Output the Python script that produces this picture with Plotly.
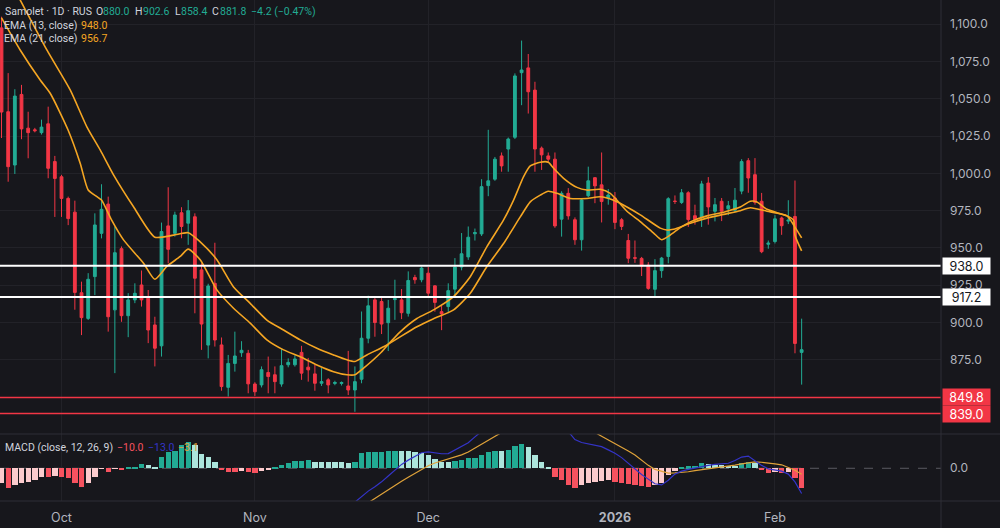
import plotly.graph_objects as go

# ---------------- data ----------------
idx = list(range(121))
opens = [1097.5, 1041.3, 1005.6, 1052.9, 1030.3, 1029.2, 1027.3, 1033.2, 1007.9, 997.7,
         983.2, 974.0, 920.0, 902.8, 930.8, 959.8, 979.4, 908.5, 949.5, 904.6,
         915.2, 925.2, 916.3, 898.4, 884.4, 964.8, 959.8, 973.6, 966.6, 970.9,
         935.3, 884.9, 926.3, 885.0, 856.6, 872.6, 879.8, 879.4, 858.8, 858.2,
         866.5, 865.0, 858.8, 871.7, 871.7, 880.0, 870.1, 865.6, 859.3, 861.6,
         859.2, 859.2, 857.5, 854.8, 862.0, 889.5, 915.2, 914.1, 899.9, 915.4,
         915.2, 906.2, 930.2, 928.7, 933.1, 924.6, 907.3, 910.7, 922.4, 937.2,
         944.0, 959.5, 959.4, 991.8, 996.1, 1011.7, 1016.3, 1024.2, 1067.5, 1070.7,
         1055.8, 1016.9, 1011.7, 1009.5, 969.3, 986.6, 968.9, 955.5, 985.0, 997.1,
         992.3, 983.5, 983.5, 968.9, 955.0, 943.5, 943.0, 938.5, 922.3, 934.8,
         944.3, 981.4, 980.5, 987.0, 971.6, 970.8, 993.5, 974.6, 981.3, 976.2,
         975.3, 988.1, 1008.5, 999.1, 981.3, 952.5, 954.3, 970.1, 968.0, 971.1,
         880.0]
highs = [1105.0, 1067.2, 1056.4, 1059.3, 1041.3, 1030.5, 1036.0, 1044.7, 1011.7, 999.0,
         984.4, 981.7, 927.4, 933.1, 973.2, 992.7, 984.4, 964.3, 951.0, 919.7,
         926.3, 934.9, 921.8, 903.9, 967.0, 990.7, 974.3, 977.3, 982.1, 973.2,
         939.7, 926.0, 953.5, 890.0, 878.3, 893.9, 887.5, 881.7, 860.0, 870.6,
         877.2, 870.6, 882.8, 876.0, 878.0, 884.4, 876.3, 871.7, 869.5, 862.7,
         861.0, 860.5, 881.0, 870.6, 907.4, 918.0, 916.4, 916.4, 915.2, 928.7,
         922.5, 934.3, 932.0, 937.5, 937.2, 925.0, 911.2, 926.3, 943.2, 960.0,
         964.4, 963.0, 996.1, 1029.2, 1011.0, 1014.0, 1024.0, 1067.0, 1089.0, 1080.0,
         1061.4, 1018.0, 1014.0, 1014.0, 988.0, 990.1, 970.5, 983.5, 1004.5, 997.5,
         1014.0, 989.5, 987.5, 970.0, 959.4, 955.0, 944.0, 940.5, 942.5, 944.0,
         984.0, 985.2, 989.5, 988.0, 979.0, 995.0, 997.5, 983.5, 983.5, 981.5,
         990.2, 1009.5, 1010.2, 1010.2, 986.9, 955.0, 972.0, 971.0, 982.0, 995.2,
         902.6]
lows = [1023.7, 994.4, 999.6, 1022.9, 1010.1, 1027.5, 1026.0, 996.7, 970.8, 970.8,
        965.3, 908.6, 891.6, 901.7, 918.4, 956.4, 893.9, 866.1, 900.5, 890.2,
        913.0, 910.7, 886.2, 870.6, 877.2, 939.7, 957.6, 956.5, 952.1, 906.2,
        881.7, 876.0, 883.9, 854.3, 850.4, 867.1, 877.0, 852.6, 850.8, 856.5,
        852.6, 852.6, 857.0, 870.0, 870.5, 861.6, 860.4, 854.3, 857.5, 852.6,
        858.0, 857.8, 851.4, 840.2, 859.3, 886.1, 890.5, 892.3, 880.9, 901.8,
        902.3, 904.0, 926.0, 927.0, 917.0, 907.3, 894.9, 907.0, 918.0, 935.0,
        942.0, 955.0, 958.0, 984.7, 995.0, 1001.1, 1001.1, 1023.0, 1045.7, 1040.1,
        1001.1, 1002.3, 1007.0, 963.5, 957.6, 969.0, 952.1, 948.2, 984.0, 980.0,
        967.1, 979.0, 962.6, 962.0, 939.8, 940.0, 931.2, 922.0, 917.7, 930.0,
        939.7, 979.5, 979.5, 964.1, 965.6, 964.1, 965.6, 967.8, 968.0, 972.0,
        974.0, 986.0, 987.0, 979.0, 946.5, 949.5, 953.0, 958.8, 966.0, 879.4,
        858.4]
closes = [1041.1, 1004.5, 1051.8, 1029.8, 1027.3, 1028.6, 1031.0, 1003.4, 996.6, 983.2,
          969.7, 920.2, 903.3, 929.0, 965.4, 975.9, 903.9, 946.8, 904.6, 915.2,
          919.6, 915.2, 895.0, 882.8, 961.0, 949.1, 972.1, 964.4, 975.0, 929.7,
          899.0, 924.5, 888.3, 857.1, 872.6, 877.6, 881.4, 858.9, 853.6, 868.4,
          863.8, 860.4, 871.1, 873.3, 875.6, 866.1, 868.3, 859.3, 860.4, 858.2,
          859.8, 859.8, 854.8, 860.4, 889.5, 911.2, 900.0, 899.0, 909.6, 916.0,
          906.6, 928.2, 928.7, 936.5, 919.7, 913.5, 905.8, 921.4, 937.2, 946.1,
          957.2, 960.3, 991.1, 995.0, 1009.5, 1005.0, 1023.0, 1065.3, 1069.3, 1054.7,
          1016.3, 1012.4, 1009.5, 964.8, 986.6, 971.5, 955.5, 982.2, 995.0, 991.6,
          981.1, 985.5, 967.1, 964.4, 943.1, 943.1, 937.9, 922.9, 934.8, 943.2,
          983.0, 981.2, 987.0, 969.0, 969.0, 992.9, 977.5, 979.0, 974.6, 978.3,
          982.0, 1007.9, 996.9, 980.6, 947.5, 953.2, 969.5, 964.9, 968.6, 886.0,
          881.8]

ema13_x = [0, 2.8, 5.8, 7.3, 10.0, 11.8, 13.0, 14.3, 15.0, 16.5, 18.3, 21.3, 23.0, 24.8,
           26.8, 28.0, 29.8, 32.3, 34.8, 37.3, 39.8, 42.3, 44.8, 47.3, 49.8, 51.8, 53.0,
           54.3, 56.8, 58.0, 59.8, 62.3, 64.8, 67.8, 70.3, 72.8, 75.3, 76.8, 78.3, 79.3,
           80.8, 82.0, 82.8, 84.3, 86.3, 87.8, 89.8, 91.3, 93.8, 95.8, 97.8, 99.0, 100.3,
           101.8, 103.3, 105.8, 108.3, 110.8, 112.3, 113.3, 114.8, 117.8, 118.8, 119, 120]
ema13 = [1104.2, 1082.7, 1062.6, 1053.7, 1028.9, 1006.8, 988.8, 984.4, 982.1, 968.8,
         955.4, 939.8, 929.0, 937.6, 944.3, 949.2, 942.1, 921.9, 909.6, 899.6, 888.4,
         881.7, 877.1, 871.6, 867.1, 865.0, 865.0, 869.4, 879.4, 885.4, 893.8, 902.7,
         908.5, 917.4, 930.7, 950.9, 968.8, 982.1, 997.8, 1005.0, 1007.5, 1007.5, 1003.4,
         996.7, 990.6, 988.8, 989.3, 986.6, 974.6, 967.7, 960.0, 955.5, 958.7, 963.6,
         967.5, 971.5, 974.0, 977.4, 981.3, 980.8, 975.9, 971.5, 968.5, 958.5, 948.0]
ema21_x = [0, 6.8, 10.3, 12.8, 14.8, 16.8, 19.8, 23.0, 25.8, 28.0, 29.8, 32.3, 34.8, 37.3,
           39.8, 42.3, 44.8, 47.3, 49.8, 51.8, 53.0, 54.8, 57.8, 62.3, 64.8, 67.8, 70.3,
           72.8, 75.3, 77.8, 79.3, 80.8, 82.0, 83.3, 85.3, 87.8, 89.8, 91.8, 93.8, 95.8,
           98.8, 99.8, 100.8, 103.3, 105.8, 108.3, 110.8, 112.3, 114.8, 117.8, 119.0, 120]
ema21 = [1140.0, 1082.7, 1055.9, 1031.2, 1015.7, 999.0, 977.6, 957.2, 958.6, 960.2,
         954.1, 942.1, 923.9, 912.9, 901.7, 895.0, 888.4, 882.8, 878.3, 875.0, 873.9,
         878.3, 885.0, 897.2, 902.6, 908.5, 919.6, 937.6, 953.0, 970.8, 980.9, 985.4,
         988.0, 986.6, 983.2, 983.2, 984.3, 982.0, 977.5, 972.2, 963.3, 962.0, 962.5,
         966.6, 970.0, 972.5, 975.0, 977.0, 974.6, 971.5, 964.0, 956.7]

hist = [-7.7, -10.3, -8.6, -7.7, -6.9, -6.0, -4.3, -4.4, -4.2, -4.6,
        -5.2, -7.7, -9.5, -7.7, -4.3, -0.3, -2.1, -0.3, -0.9, 0.2,
        0.9, 2.1, 1.5, 0.9, 6.0, 8.6, 9.1, 12.0, 13.4, 12.0,
        7.4, 6.0, 3.4, -0.5, -1.7, -1.8, -1.2, -1.7, -2.2, -1.2,
        -0.5, 0.5, 1.7, 2.9, 3.8, 3.9, 4.3, 3.4, 3.3, 3.2,
        3.1, 3.0, 2.9, 3.4, 8.1, 8.4, 8.5, 8.6, 8.7, 9.1,
        8.9, 8.8, 8.6, 8.1, 6.9, 4.6, 3.4, 3.1, 3.8, 4.3,
        5.2, 5.3, 6.9, 8.2, 9.1, 8.9, 9.2, 11.5, 12.4, 10.8,
        6.9, 3.4, 0.5, -4.3, -6.0, -8.6, -10.3, -8.6, -7.7, -6.9,
        -6.8, -6.0, -6.9, -7.7, -8.2, -8.6, -9.1, -9.5, -8.6, -7.7,
        -3.4, -1.2, 0.9, 1.0, 1.2, 2.6, 2.1, 1.7, 1.6, 1.4,
        1.3, 2.6, 3.1, 2.6, -0.9, -2.2, -2.1, -2.3, -1.7, -5.2,
        -10.0]
macd = [-26, -29, -30, -31, -32, -32.5, -33, -34, -35.5, -37,
        -38.5, -41, -44.5, -45, -42.5, -39, -40, -38.5, -38.5, -38,
        -37, -36, -36, -36, -31, -28, -25.5, -22, -19.5, -19.5,
        -21.5, -22, -22.5, -24, -25, -25.5, -25.5, -26, -26.5, -26,
        -25.5, -25, -24, -23, -22, -21.5, -21.5, -21.5, -21.5, -21.5,
        -21.5, -21.5, -21, -17.5, -14.5, -11.8, -9.5, -7.0, -4.0, -1.0,
        2.0, 4.2, 6.3, 8.0, 8.5, 8.1, 7.5, 7.6, 9.5, 11.2,
        13.2, 16.2, 19.5, 22.5, 25.5, 27.5, 31.5, 35.5, 38, 39,
        37, 35, 32.5, 28, 24, 19, 14.8, 13.3, 12.5, 11.8,
        11.2, 9.5, 7.8, 5.5, 2.5, -0.3, -3.2, -5.6, -8.0, -8.6,
        -6.2, -3.0, -1.5, -0.6, 0.2, 1.0, 1.5, 2.0, 2.3, 2.6,
        4.0, 5.8, 6.3, 4.0, 1.5, -0.3, -1.0, -1.5, -3.0, -7.0,
        -13.0]
signal = [-20, -21.5, -22.5, -23.5, -25, -26, -28.5, -29.5, -31, -32.5,
          -33.5, -33.5, -35, -37.5, -38, -38.5, -38, -38, -37.5, -38.2,
          -38, -38, -37.5, -37, -37, -36.5, -34.5, -34, -33, -31.5,
          -29, -28, -26, -23.5, -23.3, -23.7, -24.3, -24.3, -24.3, -24.8,
          -25, -25.5, -25.7, -25.9, -25.8, -25.4, -25.8, -24.9, -24.7, -24.6,
          -24.5, -24.4, -24.4, -21.5, -20.0, -17.8, -15.5, -13.2, -11.0, -8.8,
          -6.7, -4.6, -2.5, -0.4, 1.3, 2.7, 3.8, 4.8, 5.7, 6.9,
          8.4, 10.3, 12.3, 14.2, 16.3, 18.3, 20.5, 23.0, 25.5, 28.0,
          30.0, 31.5, 32.0, 32.0, 31.0, 29.0, 27.0, 24.0, 21.0, 18.5,
          16.5, 14.7, 12.8, 10.9, 8.9, 6.9, 4.3, 1.5, -0.6, -1.5,
          -2.5, -2.4, -2.2, -1.8, -1.2, -0.8, -0.2, 0.3, 0.7, 1.0,
          1.6, 2.3, 3.0, 3.3, 3.1, 2.8, 2.3, 1.8, 0.5, -1.0,
          -3.1]

levels_white = [938.0, 917.2]
levels_red = [849.8, 839.0]
price_ticks = [850, 875, 900, 925, 950, 975, 1000, 1025, 1050, 1075, 1100]
month_idx = [9, 38, 64, 92, 116]
month_lbl = ["Oct", "Nov", "Dec", "<b>2026</b>", "Feb"]

# ---------------- style ----------------
W, H = 1000, 528
FONT = "Inter, Roboto, sans-serif"
LFONT = "Roboto, Inter, sans-serif"
BG = "#17171c"
GRID = "#222228"
BORDER = "#2f2f36"
AXTXT = "#b2b5be"
UP = "#22ab94"
DOWN = "#f23645"
EMA_C = "#f5a623"
PLOT_R = 941 / W


def px(x):
    return x / W


def py(y):
    return 1 - y / H


hist_colors = []
for k, v in enumerate(hist):
    prev = hist[k - 1] if k > 0 else v
    if v >= 0:
        hist_colors.append("#22ab94" if v > prev else "#ace5dc")
    else:
        hist_colors.append("#f7525f" if v < prev else "#fccbcd")

fig = go.Figure()
fig.add_trace(go.Candlestick(
    x=idx, open=opens, high=highs, low=lows, close=closes,
    increasing=dict(line=dict(color=UP, width=1), fillcolor=UP),
    decreasing=dict(line=dict(color=DOWN, width=1), fillcolor=DOWN),
    whiskerwidth=0, xaxis="x", yaxis="y", hoverinfo="skip"))
fig.add_trace(go.Scatter(x=ema21_x, y=ema21, mode="lines",
                         line=dict(color=EMA_C, width=1.6, shape="spline", smoothing=0.6),
                         xaxis="x", yaxis="y", hoverinfo="skip"))
fig.add_trace(go.Scatter(x=ema13_x, y=ema13, mode="lines",
                         line=dict(color=EMA_C, width=1.6, shape="spline", smoothing=0.6),
                         xaxis="x", yaxis="y", hoverinfo="skip"))
fig.add_trace(go.Bar(x=idx, y=hist, marker=dict(color=hist_colors, line=dict(width=0)),
                     width=0.8, xaxis="x2", yaxis="y2", hoverinfo="skip"))
fig.add_trace(go.Scatter(x=idx, y=signal, mode="lines", line=dict(color="#e0a33a", width=1.2),
                         xaxis="x2", yaxis="y2", hoverinfo="skip"))
fig.add_trace(go.Scatter(x=idx, y=macd, mode="lines", line=dict(color="#3434c8", width=1.2),
                         xaxis="x2", yaxis="y2", hoverinfo="skip"))

xr = [-0.225, 140.9]
shapes = []
for lv in levels_white:
    shapes.append(dict(type="line", xref="paper", yref="y", x0=0, x1=PLOT_R, y0=lv, y1=lv,
                       line=dict(color="#ffffff", width=2)))
for lv in levels_red:
    shapes.append(dict(type="line", xref="paper", yref="y", x0=0, x1=PLOT_R, y0=lv, y1=lv,
                       line=dict(color=DOWN, width=1.5)))
shapes.append(dict(type="line", xref="paper", yref="y2", x0=0, x1=PLOT_R, y0=0, y1=0,
                   line=dict(color="#5a5a62", width=1, dash="dash"), layer="below"))
for yy in (434, 501):
    shapes.append(dict(type="line", xref="paper", yref="paper", x0=0, x1=1, y0=py(yy), y1=py(yy),
                       line=dict(color=BORDER, width=1)))
shapes.append(dict(type="line", xref="paper", yref="paper", x0=PLOT_R, x1=PLOT_R, y0=0, y1=1,
                   line=dict(color=BORDER, width=1)))

ann = []


def txt(x, y, s, color, size=10.5):
    ann.append(dict(x=px(x), y=py(y), xref="paper", yref="paper", text=s, showarrow=False,
                    xanchor="left", yanchor="middle",
                    font=dict(family=LFONT, size=size, color=color)))


LG = "#d1d4dc"
TEAL = "#22ab94"
txt(3, 12, "Samolet · 1D · RUS", LG)
txt(94, 12, "O", LG); txt(101, 12, "880.0", TEAL)
txt(133, 12, "H", LG); txt(141, 12, "902.6", TEAL)
txt(173, 12, "L", LG); txt(179, 12, "858.4", TEAL)
txt(210, 12, "C", LG); txt(218, 12, "881.8", TEAL)
txt(249, 12, "−4.2 (−0.47%)", TEAL)
txt(2, 25, "EMA (13, close)", LG); txt(79, 25, "948.0", EMA_C)
txt(2, 38, "EMA (21, close)", LG); txt(79, 38, "956.7", EMA_C)
txt(3, 447, "MACD (close, 12, 26, 9)", LG)
txt(115, 447, "−10.0", "#f7525f")
txt(146, 447, "−13.0", "#3434c8")
txt(176, 447, "−3.1", "#e0a33a")

for lv in levels_white:
    ann.append(dict(x=px(942), y=lv, xref="paper", yref="y", text=f"{lv:.1f}", showarrow=False,
                    xanchor="left", yanchor="middle", bgcolor="#ffffff", width=45, height=14,
                    borderpad=1, font=dict(family=FONT, size=12.5, color="#131722")))
for lv in levels_red:
    ann.append(dict(x=px(942), y=lv, xref="paper", yref="y", text=f"{lv:.1f}", showarrow=False,
                    xanchor="left", yanchor="middle", bgcolor=DOWN, width=45, height=14,
                    borderpad=1, font=dict(family=FONT, size=12.5, color="#ffffff")))

fig.update_layout(
    width=W, height=H, margin=dict(l=0, r=0, t=0, b=0),
    paper_bgcolor=BG, plot_bgcolor=BG, showlegend=False, boxgap=0.4, bargap=0,
    xaxis=dict(domain=[0, PLOT_R], range=xr, anchor="y", showticklabels=False,
               tickvals=month_idx, showgrid=True, gridcolor=GRID, zeroline=False,
               rangeslider=dict(visible=False), fixedrange=True),
    yaxis=dict(domain=[py(434), 1], range=[825.3, 1116.2], side="right", anchor="x",
               tickvals=price_ticks, tickformat=",.1f", ticklabelstandoff=8,
               tickfont=dict(family=FONT, size=12, color=AXTXT),
               showgrid=True, gridcolor=GRID, zeroline=False, ticks=""),
    xaxis2=dict(domain=[0, PLOT_R], range=xr, anchor="y2", tickvals=month_idx,
                ticktext=month_lbl, tickfont=dict(family=FONT, size=12.5, color=AXTXT),
                ticklabelstandoff=7, showgrid=True, gridcolor=GRID, zeroline=False, ticks=""),
    yaxis2=dict(domain=[py(501), py(434)], range=[-16.9, 17.7], side="right", anchor="x2",
                tickvals=[0], tickformat=".1f", ticklabelstandoff=8,
                tickfont=dict(family=FONT, size=12, color=AXTXT),
                showgrid=False, zeroline=False, ticks=""),
    shapes=shapes, annotations=ann,
)

fig.write_html("out.html")
